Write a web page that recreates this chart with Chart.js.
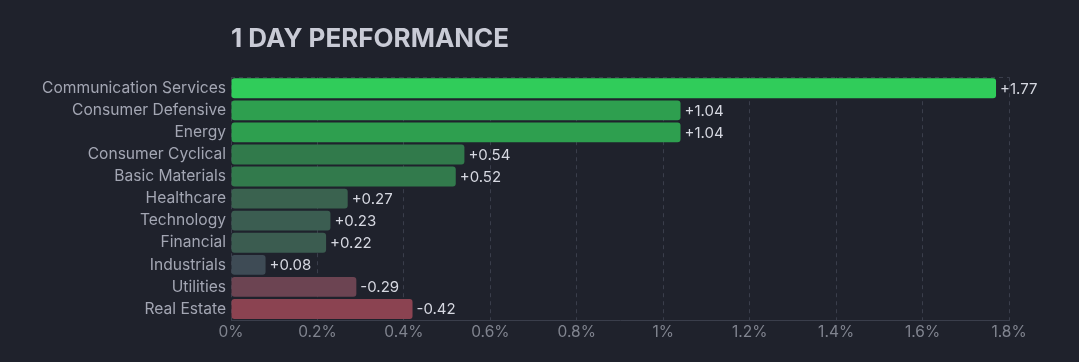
<!DOCTYPE html>
<html>
<head>
<meta charset="utf-8">
<script src="https://cdn.jsdelivr.net/npm/chart.js@4"></script>
<style>
  html, body { margin: 0; padding: 0; background: #1f222c; }
  #wrap { width: 1079px; height: 362px; }
</style>
</head>
<body>
<div id="wrap"><canvas id="chart"></canvas></div>
<script>
const sectors = [
  "Communication Services", "Consumer Defensive", "Energy", "Consumer Cyclical",
  "Basic Materials", "Healthcare", "Technology", "Financial",
  "Industrials", "Utilities", "Real Estate"
];
const changes = [1.77, 1.04, 1.04, 0.54, 0.52, 0.27, 0.23, 0.22, 0.08, -0.29, -0.42];
const barColors = [
  "#30cc5a", "#2e9f4f", "#2e9f4f", "#317a4b", "#327a4c", "#3a624f",
  "#3b5d51", "#3b5c50", "#3e4b55", "#6c4452", "#8b4351"
];
const tickLabels = ["0%", "0.2%", "0.4%", "0.6%", "0.8%", "1%", "1.2%", "1.4%", "1.6%", "1.8%"];

const gridColor = "#3a3e4b";

// draw "+1.77" etc. after each bar
const valueLabels = {
  id: "valueLabels",
  afterDatasetsDraw(chart) {
    const ctx = chart.ctx;
    const meta = chart.getDatasetMeta(0);
    ctx.save();
    ctx.font = "15px Inter";
    ctx.fillStyle = "#d6d8e1";
    ctx.textAlign = "left";
    ctx.textBaseline = "middle";
    meta.data.forEach((bar, i) => {
      const v = changes[i];
      const txt = (v > 0 ? "+" : "") + v.toFixed(2);
      ctx.fillText(txt, bar.x + 4, bar.y + 1);
    });
    ctx.restore();
  }
};

new Chart(document.getElementById("chart"), {
  type: "bar",
  data: {
    labels: sectors,
    datasets: [{
      data: changes.map(v => Math.abs(v)),
      backgroundColor: barColors,
      borderRadius: 3,
      borderSkipped: false,
      barPercentage: 0.9,
      categoryPercentage: 1
    }]
  },
  options: {
    indexAxis: "y",
    responsive: true,
    maintainAspectRatio: false,
    animation: false,
    layout: { padding: { left: 0, right: 70, top: 0, bottom: 0 } },
    plugins: {
      legend: { display: false },
      tooltip: { enabled: false },
      title: {
        display: true,
        text: "1 DAY PERFORMANCE",
        align: "start",
        fullSize: false,
        color: "#c9cbd6",
        font: { family: "Inter", size: 26, weight: "bold", lineHeight: 1.2 },
        padding: { top: 24, bottom: 22 }
      }
    },
    scales: {
      x: {
        min: 0,
        max: 1.8,
        ticks: {
          stepSize: 0.2,
          color: "#80848f",
          font: { family: "Inter", size: 15.5 },
          padding: 3,
          callback: (v, i) => tickLabels[i]
        },
        grid: { color: gridColor, drawTicks: false },
        border: { color: gridColor, dash: [4, 4] },
        afterFit: (scale) => { scale.height = 42; }
      },
      y: {
        ticks: {
          color: "#a3a6b3",
          font: { family: "Inter", size: 15.6 },
          padding: 5
        },
        grid: {
          drawTicks: false,
          color: (c) => (c.index === 0 ? gridColor : "transparent")
        },
        border: { display: false, dash: [4, 4] },
        afterFit: (scale) => { scale.width = 231; }
      }
    }
  },
  plugins: [valueLabels]
});
</script>
</body>
</html>
